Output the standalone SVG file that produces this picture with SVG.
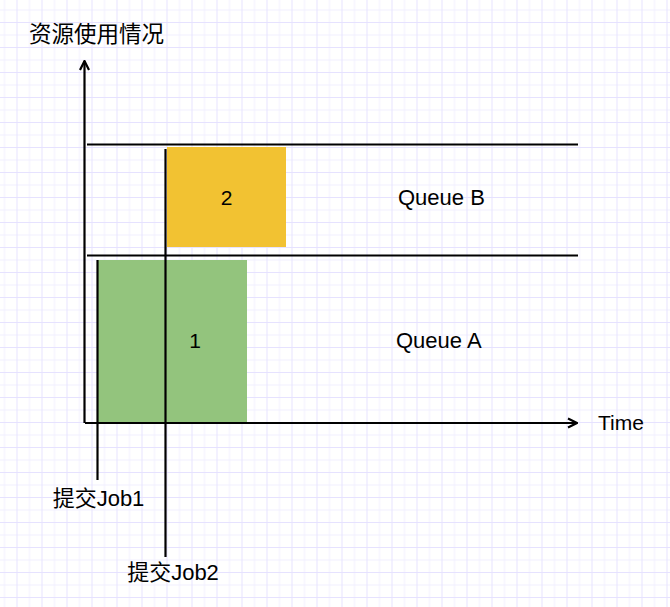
<svg xmlns="http://www.w3.org/2000/svg" width="670" height="607" viewBox="0 0 670 607">
  <defs>
    <pattern id="grid" patternUnits="userSpaceOnUse" x="16.5" y="22" width="25" height="25">
      <rect x="0" y="0" width="25" height="25" fill="#ffffff"/>
      <rect x="12.5" y="0" width="1" height="25" fill="#f1efff"/>
      <rect x="0" y="12.5" width="25" height="1" fill="#f1efff"/>
      <rect x="0" y="0" width="1" height="25" fill="#e6e2ff"/>
      <rect x="0" y="0" width="25" height="1" fill="#e6e2ff"/>
    </pattern>
    <marker id="openArrow" viewBox="0 0 12 12" refX="11" refY="6" markerWidth="12" markerHeight="12" markerUnits="userSpaceOnUse" orient="auto">
      <path d="M2,1.5 L11,6 L2,10.5" fill="none" stroke="#000" stroke-width="2.2" stroke-linejoin="miter"/>
    </marker>
  </defs>
  <style>
    .ln { stroke: #000; stroke-width: 2.2; fill: none; }
    .t { font-family: "Liberation Sans", "Noto Sans CJK SC", sans-serif; fill: #000; }
    .s21 { font-size: 21px; }
    .s22 { font-size: 22px; }
  </style>
  <rect x="0" y="0" width="670" height="607" fill="url(#grid)"/>

  <g id="title">
    <text class="t" x="29" y="42" style="font-size:22.5px">资源使用情况</text>
  </g>

  <g id="job2-box">
    <rect x="167" y="147" width="119" height="100" fill="#f2c232"/>
    <text class="t s21" x="226.5" y="205" text-anchor="middle">2</text>
  </g>

  <g id="job1-box">
    <rect x="97" y="260" width="150" height="163" fill="#93c47d"/>
    <text class="t s21" x="195" y="348" text-anchor="middle">1</text>
  </g>

  <g id="queue-b">
    <text class="t s22" x="398" y="205">Queue B</text>
  </g>
  <g id="queue-a">
    <text class="t s22" x="396" y="348">Queue A</text>
  </g>
  <g id="time-label">
    <text class="t s21" x="598" y="430">Time</text>
  </g>
  <g id="job1-label">
    <text class="t s22" x="98.5" y="506" text-anchor="middle">提交Job1</text>
  </g>
  <g id="job2-label">
    <text class="t s22" x="173" y="580" text-anchor="middle">提交Job2</text>
  </g>

  <g id="connectors">
    <line class="ln" x1="84.5" y1="423" x2="84.5" y2="61" marker-end="url(#openArrow)"/>
    <line class="ln" x1="85" y1="423" x2="577" y2="423" marker-end="url(#openArrow)"/>
    <line class="ln" x1="87" y1="144.5" x2="578" y2="144.5"/>
    <line class="ln" x1="87" y1="255.5" x2="578" y2="255.5"/>
    <line class="ln" x1="97.5" y1="260" x2="97.5" y2="480"/>
    <line class="ln" x1="165.5" y1="149" x2="165.5" y2="557"/>
  </g>
</svg>
